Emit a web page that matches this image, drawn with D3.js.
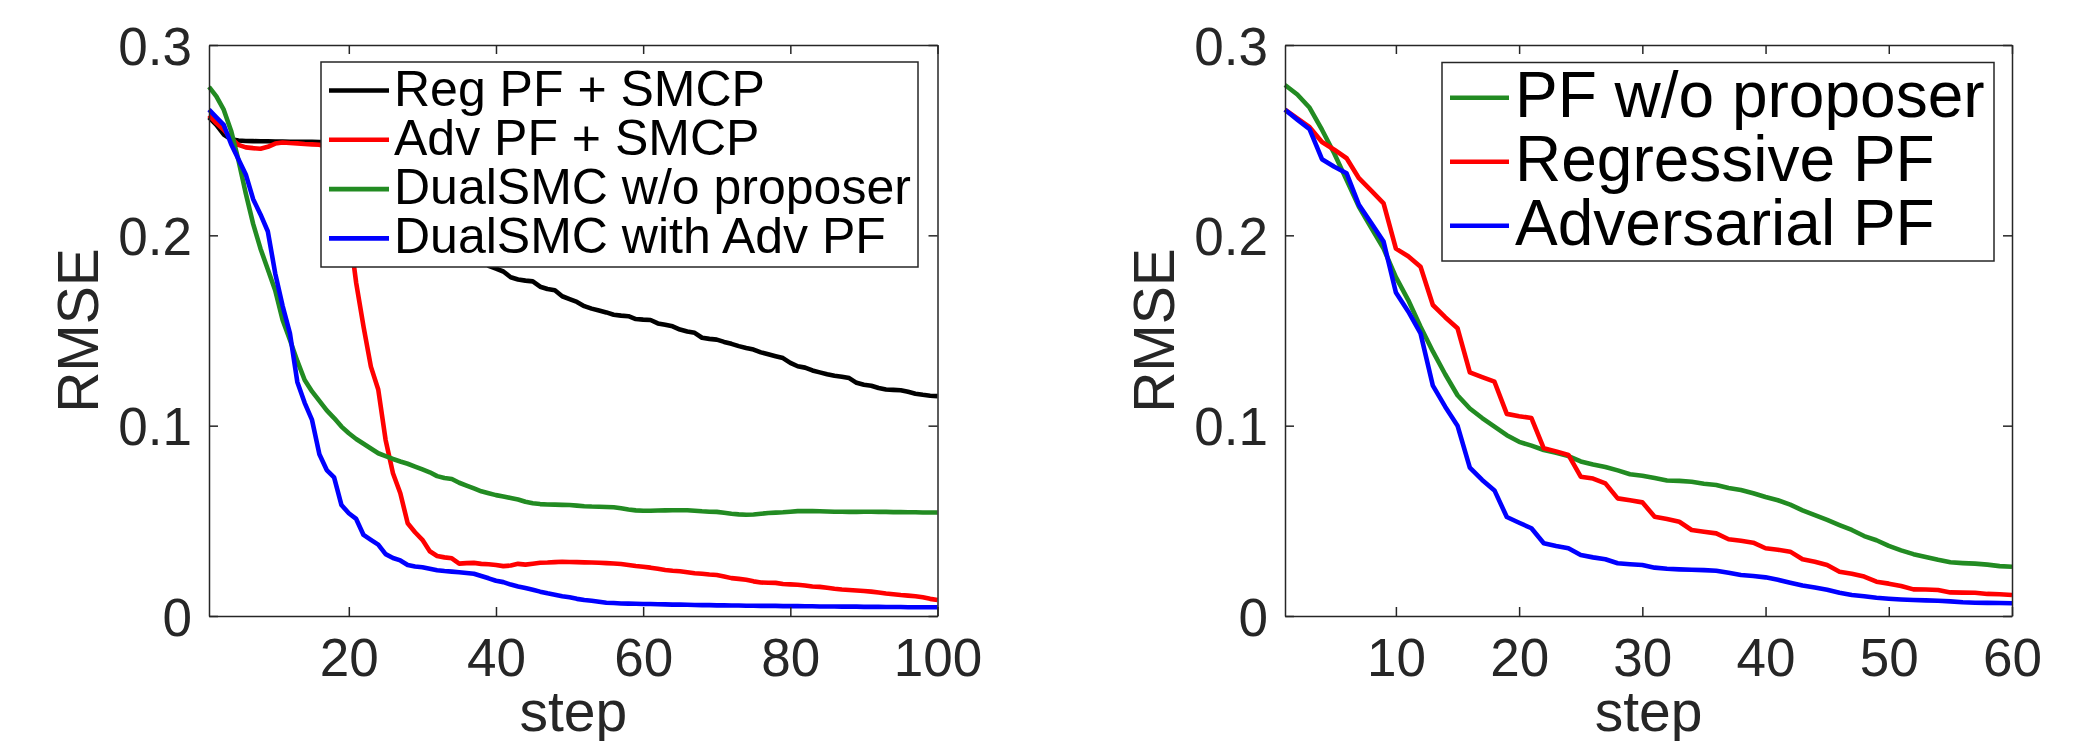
<!DOCTYPE html>
<html lang="en">
  <head>
    <meta charset="UTF-8" />
    <title>RMSE vs step</title>
    <script src="https://d3js.org/d3.v7.min.js"></script>
    <style>
      body { margin: 0; background: #fff; }
      svg { display: block; }
      text { font-family: "Liberation Sans", Arial, Helvetica, sans-serif; }
    </style>
  </head>
  <body>
    <svg id="chart" width="2095" height="741"></svg>
    <script>
      // ---- data ----
      let yTicks = [0, 0.1, 0.2, 0.3];
      let leftXTicks = [20, 40, 60, 80, 100];
      let rightXTicks = [10, 20, 30, 40, 50, 60];

      let leftLabels = ["Reg PF + SMCP", "Adv PF + SMCP", "DualSMC w/o proposer", "DualSMC with Adv PF"];
      let rightLabels = ["PF w/o proposer", "Regressive PF", "Adversarial PF"];

      let regSmcp = [
        0.262, 0.258, 0.253, 0.2505, 0.2498, 0.2496, 0.2495, 0.2494, 0.2494, 0.2493,
        0.2493, 0.2492, 0.2492, 0.2491, 0.2491, 0.249, 0.2488, 0.2485, 0.248, 0.247,
        0.245, 0.243, 0.24, 0.237, 0.234, 0.23, 0.227, 0.223, 0.219, 0.215,
        0.211, 0.207, 0.203, 0.2, 0.196, 0.193, 0.19, 0.187, 0.184, 0.1825,
        0.181, 0.178, 0.1768, 0.1762, 0.1758, 0.173, 0.1718, 0.1712, 0.168, 0.1665,
        0.165, 0.1628, 0.1615, 0.1605, 0.1595, 0.1583, 0.1578, 0.1575, 0.156, 0.1557,
        0.1555, 0.1537, 0.153, 0.1522, 0.1505, 0.1495, 0.1488, 0.1462, 0.1456, 0.1452,
        0.144, 0.143, 0.1418, 0.1408, 0.14, 0.1385, 0.1375, 0.1365, 0.1355, 0.133,
        0.1312, 0.1305, 0.129, 0.128, 0.127, 0.1262, 0.1257, 0.125, 0.1225, 0.1215,
        0.121, 0.1198, 0.119, 0.1188, 0.1186, 0.1178, 0.1168, 0.1162, 0.1157, 0.1155
      ];
      let advSmcp = [
        0.263, 0.259, 0.2555, 0.251, 0.2475, 0.2462, 0.2458, 0.2455, 0.2465, 0.2482,
        0.2488, 0.2485, 0.2483, 0.248, 0.2478, 0.2476, 0.2465, 0.24, 0.228, 0.205,
        0.175, 0.152, 0.131, 0.119, 0.0925, 0.075, 0.0645, 0.0487, 0.044, 0.04,
        0.034, 0.0315, 0.0308, 0.0303, 0.0275, 0.0278, 0.0279, 0.0274, 0.0272, 0.0268,
        0.0262, 0.0265, 0.0274, 0.027, 0.0275, 0.028, 0.0281, 0.0283, 0.0285, 0.0284,
        0.0283, 0.0282, 0.0281, 0.028, 0.0278, 0.0276, 0.0273, 0.0268, 0.0263, 0.0259,
        0.0254, 0.0248, 0.0242, 0.0238, 0.0235, 0.023, 0.0225, 0.0222, 0.0218, 0.0215,
        0.0208, 0.0199, 0.0195, 0.019, 0.0182, 0.0176, 0.0175, 0.0174, 0.0168, 0.0166,
        0.0164, 0.016, 0.0155, 0.0153, 0.0148, 0.0143, 0.0139, 0.0137, 0.0134, 0.0131,
        0.0128, 0.0123, 0.0118, 0.0114, 0.011, 0.0107, 0.0104, 0.0098, 0.009, 0.0084
      ];
      let dualNoProp = [
        0.278, 0.273, 0.266, 0.255, 0.2395, 0.222, 0.206, 0.193, 0.182, 0.171,
        0.1555, 0.145, 0.134, 0.124, 0.118, 0.113, 0.108, 0.104, 0.0995, 0.096,
        0.093, 0.0905, 0.088, 0.0855, 0.084, 0.0825, 0.0812, 0.08, 0.0785, 0.077,
        0.0755, 0.0735, 0.0725, 0.072, 0.07, 0.0685, 0.067, 0.0655, 0.0645, 0.0635,
        0.0628, 0.062, 0.0612, 0.06, 0.0592, 0.0588, 0.0586, 0.0585, 0.0584, 0.0583,
        0.058, 0.0577, 0.0575, 0.0574, 0.0573, 0.0571, 0.0566, 0.056, 0.0555, 0.0553,
        0.0553, 0.0554, 0.0555, 0.0556, 0.0556, 0.0556, 0.0553, 0.055, 0.0548, 0.0547,
        0.0542, 0.0537, 0.0534, 0.0532, 0.0533, 0.0537, 0.0541, 0.0543, 0.0545, 0.0548,
        0.0551, 0.0552, 0.0551, 0.055, 0.0549, 0.0548, 0.0548, 0.0547, 0.0547, 0.0548,
        0.0548, 0.0547, 0.0547, 0.0546, 0.0546, 0.0545, 0.0545, 0.0544, 0.0544, 0.0544
      ];
      let dualAdv = [
        0.266, 0.262, 0.258, 0.248, 0.24, 0.232, 0.219, 0.211, 0.202, 0.18,
        0.163, 0.1485, 0.123, 0.112, 0.103, 0.085, 0.0767, 0.0728, 0.0583, 0.054,
        0.051, 0.0426, 0.04, 0.0375, 0.0325, 0.0305, 0.0292, 0.0268, 0.026, 0.0256,
        0.0248, 0.024, 0.0236, 0.0233, 0.023, 0.0226, 0.0222, 0.021, 0.0198, 0.0185,
        0.0178, 0.0165, 0.0155, 0.0147, 0.0138, 0.0128, 0.0119, 0.0112, 0.0104, 0.0098,
        0.009, 0.0084, 0.008, 0.0075, 0.007, 0.0068, 0.0066, 0.0065, 0.0064, 0.0063,
        0.0063, 0.0062, 0.0061, 0.006, 0.006, 0.0059, 0.0058, 0.0057, 0.0057, 0.0056,
        0.0056, 0.0055, 0.0055, 0.0054, 0.0054, 0.0053, 0.0053, 0.0053, 0.0052, 0.0052,
        0.0052, 0.0051, 0.0051, 0.005, 0.005, 0.005, 0.0049, 0.0049, 0.0049, 0.0048,
        0.0048, 0.0048, 0.0047, 0.0047, 0.0047, 0.0046, 0.0046, 0.0046, 0.0046, 0.0046
      ];

      let pfNoProp = [
        0.279, 0.274, 0.267, 0.2555, 0.243, 0.229, 0.215, 0.204, 0.193, 0.178,
        0.166, 0.152, 0.139, 0.127, 0.116, 0.109, 0.104, 0.0995, 0.095, 0.0915,
        0.0895, 0.0872, 0.0858, 0.084, 0.0812, 0.0796, 0.0783, 0.0765, 0.0745, 0.0737,
        0.0725, 0.0712, 0.071, 0.0705, 0.0695, 0.0688, 0.0672, 0.0662, 0.0645, 0.0625,
        0.0608, 0.0585, 0.0555, 0.053, 0.0505, 0.0478, 0.0452, 0.042, 0.0398, 0.0368,
        0.0345, 0.0325, 0.031, 0.0295, 0.0282, 0.0278, 0.0275, 0.027, 0.0262, 0.0259
      ];
      let regressivePf = [
        0.266, 0.2615, 0.2568, 0.249, 0.245, 0.2405, 0.23, 0.2235, 0.2168, 0.193,
        0.189, 0.1835, 0.1634, 0.157, 0.1512, 0.128, 0.1255, 0.1231, 0.1062, 0.105,
        0.104, 0.0881, 0.0865, 0.0846, 0.0732, 0.0722, 0.0697, 0.0618, 0.0608, 0.0597,
        0.0522, 0.051, 0.0495, 0.0452, 0.0443, 0.0434, 0.0403, 0.0395, 0.0385, 0.0356,
        0.0348, 0.0338, 0.0298, 0.0285, 0.0268, 0.0233, 0.0222, 0.0207, 0.018, 0.017,
        0.0158, 0.014, 0.0139, 0.0137, 0.0124, 0.0123, 0.0122, 0.0116, 0.0114, 0.011
      ];
      let adversarialPf = [
        0.266, 0.2608, 0.2557, 0.24, 0.236, 0.2326, 0.216, 0.2065, 0.1967, 0.17,
        0.16, 0.1485, 0.121, 0.11, 0.1, 0.078, 0.0715, 0.066, 0.052, 0.049,
        0.0461, 0.0382, 0.0368, 0.0356, 0.032, 0.0308, 0.0298, 0.0277, 0.0272, 0.0268,
        0.0254, 0.0248, 0.0245, 0.0243, 0.0241, 0.0238, 0.0227, 0.0215, 0.021, 0.0203,
        0.019, 0.0175, 0.016, 0.015, 0.0138, 0.0122, 0.011, 0.0104, 0.0096, 0.0091,
        0.0087, 0.0084, 0.0082, 0.008, 0.0077, 0.0072, 0.007, 0.0069, 0.0068, 0.0067
      ];

      let axisColor = "#262626";
      let svg = d3.select("#chart");

      function drawPanel(cfg) {
        let x = d3.scaleLinear().domain([1, cfg.steps]).range([cfg.left, cfg.right]);
        let y = d3.scaleLinear().domain([0, 0.3]).range([cfg.bottom, cfg.top]);
        let g = svg.append("g");

        // lines
        let line = d3
          .line()
          .x((d, i) => x(i + 1))
          .y((d) => y(d));
        cfg.series.forEach((s) => {
          g.append("path")
            .attr("d", line(s.values))
            .attr("fill", "none")
            .attr("stroke", s.color)
            .attr("stroke-width", 4.6)
            .attr("stroke-linejoin", "round");
        });

        // axes, MATLAB style: box on, ticks pointing in
        let tickLen = 9;
        let bottom = d3.axisBottom(x).tickValues(cfg.xTicks).tickSizeInner(-tickLen).tickSizeOuter(0).tickPadding(22);
        let top = d3.axisTop(x).tickValues(cfg.xTicks).tickSizeInner(-tickLen).tickSizeOuter(0).tickFormat("");
        let leftAx = d3.axisLeft(y).tickValues(yTicks).tickSizeInner(-tickLen).tickSizeOuter(0).tickPadding(17).tickFormat(d3.format("~g"));
        let rightAx = d3.axisRight(y).tickValues(yTicks).tickSizeInner(-tickLen).tickSizeOuter(0).tickFormat("");

        let gb = g.append("g").attr("transform", "translate(0," + cfg.bottom + ")").call(bottom);
        g.append("g").attr("transform", "translate(0," + cfg.top + ")").call(top);
        let gl = g.append("g").attr("transform", "translate(" + cfg.left + ",0)").call(leftAx);
        g.append("g").attr("transform", "translate(" + cfg.right + ",0)").call(rightAx);

        g.selectAll(".domain").attr("stroke", axisColor).attr("stroke-width", 1.5);
        g.selectAll(".tick line").attr("stroke", axisColor).attr("stroke-width", 1.5);
        g.selectAll(".tick text")
          .attr("fill", axisColor)
          .style("font-size", "53px")
          .style("font-family", '"Liberation Sans", Arial, Helvetica, sans-serif');
        gb.selectAll(".tick text").attr("dy", "0.71em");
        gl.selectAll(".tick text").attr("dy", "0.36em");

        // axis titles
        g.append("text")
          .attr("x", (cfg.left + cfg.right) / 2)
          .attr("y", cfg.bottom + 115)
          .attr("text-anchor", "middle")
          .attr("fill", axisColor)
          .style("font-size", "57px")
          .text("step");
        g.append("text")
          .attr("transform", "translate(" + (cfg.left - 111) + "," + (cfg.top + cfg.bottom) / 2 + ") rotate(-90)")
          .attr("text-anchor", "middle")
          .attr("fill", axisColor)
          .style("font-size", "57px")
          .text("RMSE");

        // legend
        let lg = cfg.legend;
        g.append("rect")
          .attr("x", lg.x)
          .attr("y", lg.y)
          .attr("width", lg.w)
          .attr("height", lg.h)
          .attr("fill", "#fff")
          .attr("stroke", axisColor)
          .attr("stroke-width", 1.5);
        cfg.series.forEach((s, i) => {
          let ry = lg.row0 + i * lg.rowStep;
          g.append("line")
            .attr("x1", lg.lineX1)
            .attr("x2", lg.lineX2)
            .attr("y1", ry)
            .attr("y2", ry)
            .attr("stroke", s.color)
            .attr("stroke-width", 4.6);
          g.append("text")
            .attr("x", lg.textX)
            .attr("y", ry + lg.fontSize * 0.3)
            .attr("fill", "#000")
            .style("font-size", lg.fontSize + "px")
            .text(s.label);
        });
      }

      drawPanel({
        left: 209, right: 937.5, top: 45, bottom: 616, steps: 100,
        xTicks: leftXTicks,
        series: [
          { label: leftLabels[0], values: regSmcp, color: "#000000" },
          { label: leftLabels[1], values: advSmcp, color: "#ff0000" },
          { label: leftLabels[2], values: dualNoProp, color: "#228b22" },
          { label: leftLabels[3], values: dualAdv, color: "#0000ff" }
        ],
        legend: { x: 321, y: 62, w: 597, h: 205, lineX1: 329, lineX2: 389, textX: 394, row0: 90.5, rowStep: 49.3, fontSize: 50 }
      });

      drawPanel({
        left: 1285, right: 2012, top: 45, bottom: 616, steps: 60,
        xTicks: rightXTicks,
        series: [
          { label: rightLabels[0], values: pfNoProp, color: "#228b22" },
          { label: rightLabels[1], values: regressivePf, color: "#ff0000" },
          { label: rightLabels[2], values: adversarialPf, color: "#0000ff" }
        ],
        legend: { x: 1442, y: 62.5, w: 552, h: 198.5, lineX1: 1450, lineX2: 1509, textX: 1515, row0: 97.7, rowStep: 64, fontSize: 64 }
      });
    </script>
  </body>
</html>
